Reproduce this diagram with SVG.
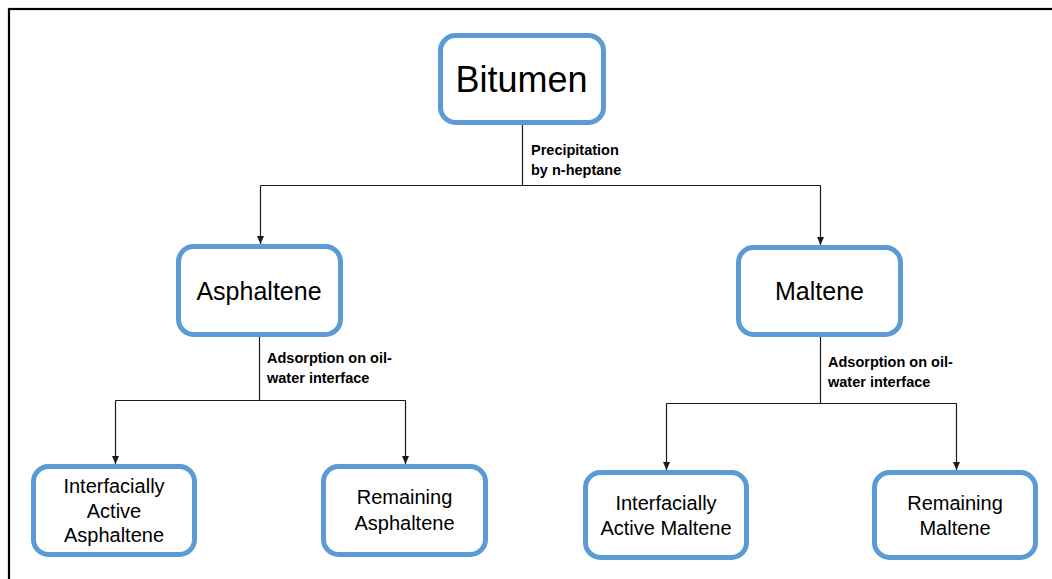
<svg xmlns="http://www.w3.org/2000/svg" width="1052" height="579" viewBox="0 0 1052 579">
  <style>
    .box { fill: #ffffff; stroke: #5b9bd5; stroke-width: 5; }
    .wire { fill: none; stroke: #1a1a1a; stroke-width: 1.2; }
    .arrow { fill: none; stroke: #1a1a1a; stroke-width: 1.2; marker-end: url(#head); }
    .t { font-family: "Liberation Sans", Arial, sans-serif; fill: #000000; text-anchor: middle; }
    .lbl { font-family: "Liberation Sans", Arial, sans-serif; font-weight: bold; font-size: 14.5px; fill: #000000; }
  </style>
  <defs>
    <marker id="head" markerUnits="userSpaceOnUse" markerWidth="8" markerHeight="7" refX="8" refY="3.5" orient="auto">
      <path d="M0,0 L8,3.5 L0,7 z" fill="#1a1a1a"/>
    </marker>
  </defs>

  <rect x="0" y="0" width="1052" height="579" fill="#ffffff"/>
  <!-- outer frame -->
  <rect x="9" y="9" width="1060" height="590" fill="none" stroke="#000000" stroke-width="2.2"/>

  <g id="connectors">
    <!-- Bitumen split -->
    <path class="wire" d="M522.5 125 V185.5"/>
    <path class="wire" d="M260.5 185.5 H820.5"/>
    <path class="arrow" d="M260.5 185.5 V244"/>
    <path class="arrow" d="M820.5 185.5 V245"/>
    <!-- Asphaltene split -->
    <path class="wire" d="M259.5 337 V400.5"/>
    <path class="wire" d="M115.5 400.5 H405.5"/>
    <path class="arrow" d="M115.5 400.5 V464"/>
    <path class="arrow" d="M405.5 400.5 V464"/>
    <!-- Maltene split -->
    <path class="wire" d="M820.5 337 V403.5"/>
    <path class="wire" d="M666.5 403.5 H956.5"/>
    <path class="arrow" d="M666.5 403.5 V470"/>
    <path class="arrow" d="M956.5 403.5 V470"/>
    <!-- edge labels -->
    <text class="lbl" x="531" y="155">Precipitation</text>
    <text class="lbl" x="531" y="175">by n-heptane</text>
    <text class="lbl" x="267" y="363">Adsorption on oil-</text>
    <text class="lbl" x="267" y="383">water interface</text>
    <text class="lbl" x="828" y="366.5">Adsorption on oil-</text>
    <text class="lbl" x="828" y="386.5">water interface</text>
  </g>

  <g id="bitumen">
    <rect class="box" x="440.5" y="35.5" width="163" height="87" rx="15"/>
    <text class="t" x="521.5" y="92" font-size="36">Bitumen</text>
  </g>

  <g id="asphaltene">
    <rect class="box" x="178.5" y="246.5" width="162" height="88" rx="15"/>
    <text class="t" x="259" y="300" font-size="25">Asphaltene</text>
  </g>

  <g id="maltene">
    <rect class="box" x="738.5" y="247.5" width="162" height="87" rx="15"/>
    <text class="t" x="819.5" y="300" font-size="25">Maltene</text>
  </g>

  <g id="active-asphaltene">
    <rect class="box" x="33.5" y="466.5" width="161" height="88" rx="15"/>
    <text class="t" x="114" y="493" font-size="20">Interfacially</text>
    <text class="t" x="114" y="517.5" font-size="20">Active</text>
    <text class="t" x="114" y="542" font-size="20">Asphaltene</text>
  </g>

  <g id="remaining-asphaltene">
    <rect class="box" x="323.5" y="466.5" width="162" height="88" rx="15"/>
    <text class="t" x="404.5" y="504" font-size="20">Remaining</text>
    <text class="t" x="404.5" y="530" font-size="20">Asphaltene</text>
  </g>

  <g id="active-maltene">
    <rect class="box" x="585.5" y="472.5" width="161" height="85" rx="15"/>
    <text class="t" x="666" y="510" font-size="20">Interfacially</text>
    <text class="t" x="666" y="535" font-size="20">Active Maltene</text>
  </g>

  <g id="remaining-maltene">
    <rect class="box" x="874.5" y="472.5" width="161" height="85" rx="15"/>
    <text class="t" x="955" y="510" font-size="20">Remaining</text>
    <text class="t" x="955" y="535" font-size="20">Maltene</text>
  </g>
</svg>
